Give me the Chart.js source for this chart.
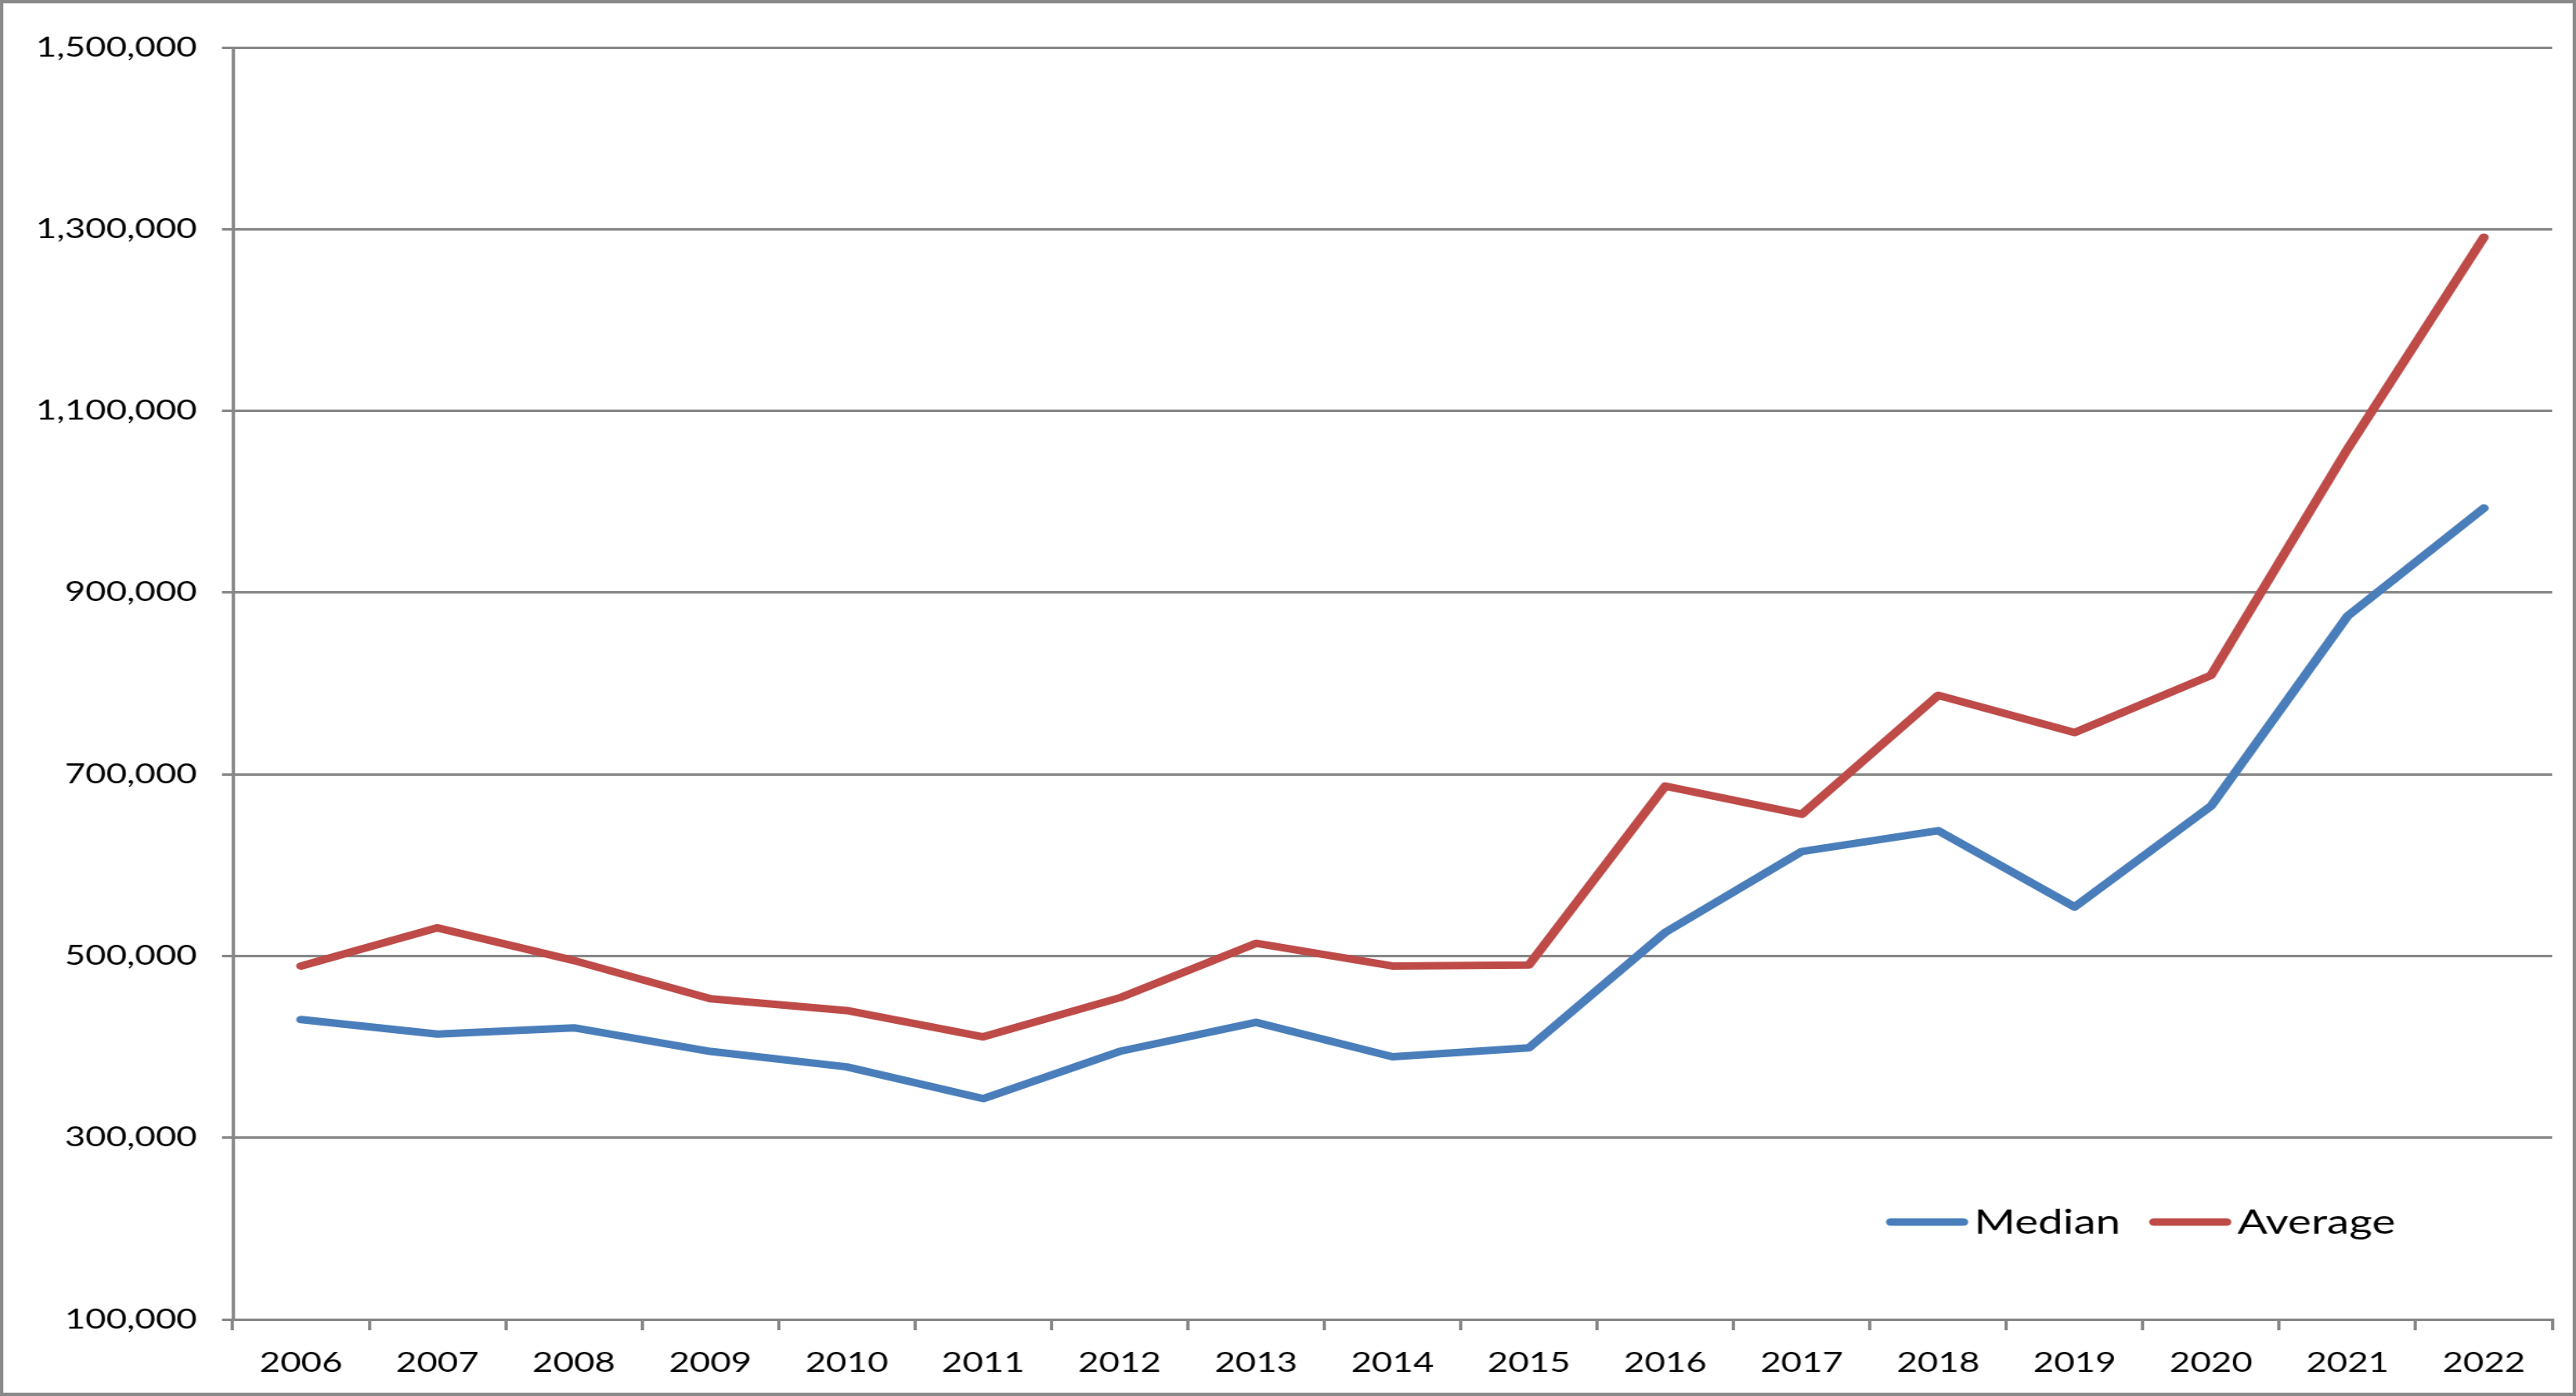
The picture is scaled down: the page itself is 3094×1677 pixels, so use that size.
<!DOCTYPE html>
<html>
<head>
<meta charset="utf-8">
<title>Median and Average</title>
<script src="https://cdn.jsdelivr.net/npm/chart.js@4.4.1/dist/chart.umd.min.js"></script>
<style>
  html, body { margin: 0; padding: 0; background: #fff; }
  #frame {
    position: relative;
    width: 3094px;
    height: 1677px;
    box-sizing: border-box;
    border: 4px solid #8a8a8a;
    overflow: hidden;
    background: #fff;
  }
  /* the original picture is stretched sideways, so the canvas is too */
  #chart {
    position: absolute;
    left: 0;
    top: 0;
    transform-origin: 0 0;
    transform: scaleX(1.29992);
  }
</style>
</head>
<body>
<div id="frame">
  <canvas id="chart" width="2374" height="1669"></canvas>
</div>
<script>
const years = ['2006', '2007', '2008', '2009', '2010', '2011', '2012', '2013', '2014',
  '2015', '2016', '2017', '2018', '2019', '2020', '2021', '2022'];

const medianPrices = [430000, 414000, 421000, 395000, 378000, 343000, 395000, 427000, 389000,
  399000, 526000, 615000, 638000, 554000, 665000, 874000, 993000];

const averagePrices = [489000, 531000, 495000, 453000, 440000, 411000, 454000, 514000, 489000,
  490000, 687000, 656000, 787000, 746000, 809000, 1058000, 1291000];

const yMin = 100000;
const yMax = 1500000;
const yStep = 200000;

const GRID = '#878787';
const TEXT = '#000000';
const BLUE = '#4a7ebb';
const RED = '#be4b48';
const FONT = 'Lato';

// legend sits inside the plot, bottom right, like the spreadsheet one
const insideLegend = {
  id: 'insideLegend',
  afterDraw(chart) {
    const {ctx, chartArea} = chart;
    const lineLen = 75;
    let x = chartArea.right - 615;
    const y = chartArea.bottom - 117;
    ctx.save();
    ctx.font = '41px ' + FONT;
    ctx.textBaseline = 'middle';
    ctx.textAlign = 'left';
    chart.data.datasets.forEach(ds => {
      ctx.strokeStyle = ds.borderColor;
      ctx.lineWidth = 9;
      ctx.lineCap = 'round';
      ctx.beginPath();
      ctx.moveTo(x + 4, y);
      ctx.lineTo(x + lineLen - 4, y);
      ctx.stroke();
      x += lineLen + 6;
      ctx.fillStyle = TEXT;
      ctx.fillText(ds.label, x, y + 1);
      x += ctx.measureText(ds.label).width + 27;
    });
    ctx.restore();
  }
};

function drawChart() {
  const ctx = document.getElementById('chart');
  new Chart(ctx, {
    type: 'line',
    data: {
      labels: years,
      datasets: [
        {
          label: 'Median',
          data: medianPrices,
          borderColor: BLUE,
          backgroundColor: BLUE,
          borderWidth: 9,
          borderCapStyle: 'round',
          borderJoinStyle: 'round',
          pointRadius: 0,
          tension: 0,
          fill: false
        },
        {
          label: 'Average',
          data: averagePrices,
          borderColor: RED,
          backgroundColor: RED,
          borderWidth: 9,
          borderCapStyle: 'round',
          borderJoinStyle: 'round',
          pointRadius: 0,
          tension: 0,
          fill: false
        }
      ]
    },
    options: {
      responsive: false,
      maintainAspectRatio: false,
      animation: false,
      devicePixelRatio: 1,
      layout: {
        padding: {top: 53, right: 19, bottom: 0, left: 0}
      },
      plugins: {
        legend: {display: false},
        tooltip: {enabled: false}
      },
      scales: {
        x: {
          type: 'category',
          offset: true,
          grid: {
            offset: true,
            drawOnChartArea: false,
            drawTicks: true,
            tickLength: 13,
            color: GRID,
            lineWidth: 3
          },
          border: {color: GRID, width: 3},
          ticks: {
            color: TEXT,
            font: {family: FONT, size: 33},
            padding: 20,
            maxRotation: 0,
            autoSkip: false
          },
          afterFit: scale => { scale.height = 88; }
        },
        y: {
          min: yMin,
          max: yMax,
          grid: {
            color: GRID,
            lineWidth: 3,
            drawTicks: true,
            tickLength: 10
          },
          border: {color: GRID, width: 3},
          ticks: {
            stepSize: yStep,
            color: TEXT,
            font: {family: FONT, size: 33},
            padding: 23,
            callback: value => value.toLocaleString('en-US')
          },
          afterFit: scale => { scale.width = 212; }
        }
      }
    },
    plugins: [insideLegend]
  });
}

if (document.fonts && document.fonts.load) {
  Promise.all([
    document.fonts.load('33px ' + FONT),
    document.fonts.load('41px ' + FONT)
  ]).then(drawChart, drawChart);
} else {
  drawChart();
}
</script>
</body>
</html>
